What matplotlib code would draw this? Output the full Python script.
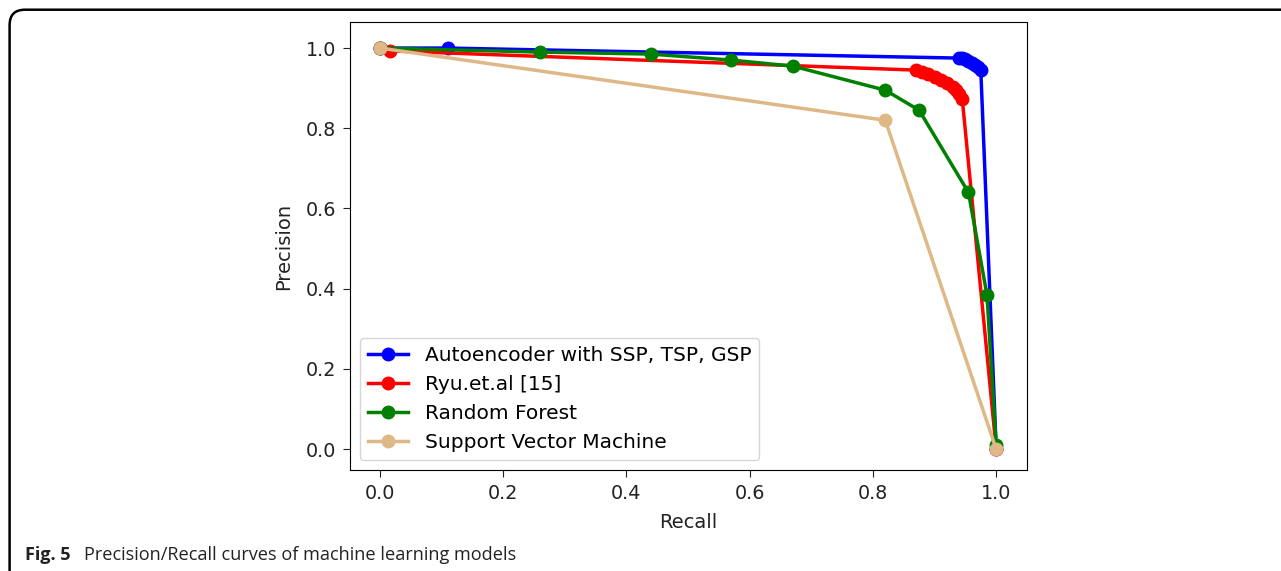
import matplotlib.pyplot as plt
from matplotlib.patches import FancyBboxPatch

# recall / precision values
ae_recall = [0.0, 0.11, 0.94, 0.945, 0.95, 0.955, 0.96, 0.965, 0.97, 0.975, 1.0]
ae_prec = [1.0, 1.0, 0.975, 0.974, 0.972, 0.968, 0.964, 0.958, 0.952, 0.945, 0.0]

ryu_recall = [0.0, 0.016, 0.87, 0.88, 0.89, 0.90, 0.91, 0.92, 0.93, 0.935, 0.94, 0.945, 1.0]
ryu_prec = [1.0, 0.993, 0.945, 0.94, 0.935, 0.928, 0.92, 0.912, 0.902, 0.895, 0.885, 0.872, 0.0]

rf_recall = [0.0, 0.26, 0.44, 0.57, 0.67, 0.82, 0.875, 0.955, 0.985, 1.0]
rf_prec = [1.0, 0.99, 0.985, 0.97, 0.955, 0.895, 0.845, 0.64, 0.385, 0.01]

svm_recall = [0.0, 0.82, 1.0]
svm_prec = [1.0, 0.82, 0.0]

labels = ["Autoencoder with SSP, TSP, GSP", "Ryu.et.al [15]", "Random Forest", "Support Vector Machine"]
colors = ["blue", "red", "green", "burlywood"]

fig = plt.figure(figsize=(12.81, 5.71), dpi=100)

# outer frame of the figure panel
frame = FancyBboxPatch((0.0075, -0.05), 1.1, 1.033, boxstyle="round,pad=0,rounding_size=0.012",
                       transform=fig.transFigure, fill=False, edgecolor="black", linewidth=1.8,
                       mutation_aspect=1281 / 571)
fig.patches.append(frame)

ax = fig.add_axes([350 / 1281, 1 - 470 / 571, 677 / 1281, 448 / 571])

series = [(ae_recall, ae_prec), (ryu_recall, ryu_prec), (rf_recall, rf_prec), (svm_recall, svm_prec)]
for (x, y), lab, c in zip(series, labels, colors):
    ax.plot(x, y, marker="o", color=c, label=lab, linewidth=2.5, markersize=9)

ax.set_xlim(-0.0487, 1.05)
ax.set_ylim(-0.052, 1.065)
ax.set_xticks([0.0, 0.2, 0.4, 0.6, 0.8, 1.0])
ax.set_yticks([0.0, 0.2, 0.4, 0.6, 0.8, 1.0])
ax.tick_params(labelsize=13.8, length=5, pad=5, colors="#222222")
ax.set_xlabel("Recall", fontsize=14, color="#222222", labelpad=7)
ax.set_ylabel("Precision", fontsize=14, color="#222222", labelpad=9)
ax.legend(loc="lower left", fontsize=14.5, handlelength=2, borderaxespad=0.5)

fig.text(25 / 1281, 1 - 560 / 571, "Fig. 5", fontsize=13, fontweight="bold", family="Open Sans",
         va="baseline", color="#222222")
fig.text(84 / 1281, 1 - 560 / 571, "Precision/Recall curves of machine learning models", fontsize=13.1,
         family="Open Sans", va="baseline", color="#222222")

fig.savefig("out.png", dpi=100)
